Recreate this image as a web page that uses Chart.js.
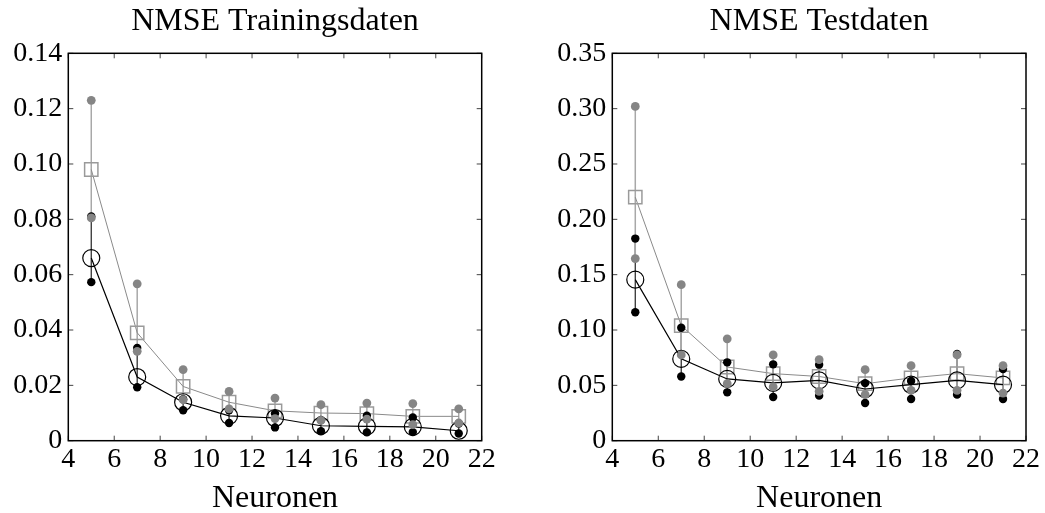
<!DOCTYPE html>
<html>
<head>
<meta charset="utf-8">
<script src="https://cdn.jsdelivr.net/npm/chart.js@4.4.1/dist/chart.umd.min.js"></script>
<style>
  html, body { margin: 0; padding: 0; background: #fff; overflow: hidden; }
  canvas { position: absolute; top: 0; }
  #train { left: 0; }
  #test { left: 522px; }
</style>
</head>
<body>
<canvas id="train" width="522" height="513"></canvas>
<canvas id="test" width="523" height="513"></canvas>
<script>
// Anzahl Neuronen (x-Achse)
const neurons = [5, 7, 9, 11, 13, 15, 17, 19, 21];
const xTicks = ["4", "6", "8", "10", "12", "14", "16", "18", "20", "22"];

// NMSE Trainingsdaten
const trainGrayMean = [0.098, 0.039, 0.0196, 0.0139, 0.0108, 0.0100, 0.0098, 0.0088, 0.0088];
const trainGrayHi   = [0.123, 0.0567, 0.0257, 0.0178, 0.0154, 0.0130, 0.0136, 0.0134, 0.0115];
const trainGrayLo   = [0.0805, 0.0323, 0.0148, 0.0115, 0.0080, 0.0073, 0.0078, 0.0058, 0.0064];
const trainBlackMean = [0.066, 0.023, 0.0139, 0.0090, 0.0082, 0.0054, 0.0052, 0.0050, 0.0036];
const trainBlackHi   = [0.081, 0.0335, 0.0150, 0.0110, 0.0098, 0.0075, 0.0090, 0.0084, 0.0062];
const trainBlackLo   = [0.0573, 0.0193, 0.0110, 0.0064, 0.0048, 0.0034, 0.0030, 0.0031, 0.0026];
const trainYTicks = ["0", "0.02", "0.04", "0.06", "0.08", "0.10", "0.12", "0.14"];

// NMSE Testdaten
const testGrayMean = [0.220, 0.104, 0.0666, 0.0606, 0.058, 0.0515, 0.0567, 0.0606, 0.0567];
const testGrayHi   = [0.302, 0.141, 0.092, 0.0775, 0.0732, 0.0642, 0.0678, 0.0775, 0.0678];
const testGrayLo   = [0.1645, 0.0775, 0.0515, 0.0486, 0.0446, 0.0416, 0.0455, 0.0455, 0.043];
const testBlackMean = [0.1455, 0.0739, 0.0558, 0.0522, 0.0545, 0.0467, 0.0506, 0.0545, 0.0506];
const testBlackHi   = [0.1826, 0.102, 0.0708, 0.069, 0.0687, 0.052, 0.054, 0.0784, 0.0648];
const testBlackLo   = [0.116, 0.058, 0.0437, 0.0395, 0.0407, 0.034, 0.0377, 0.0416, 0.0377];
const testYTicks = ["0", "0.05", "0.10", "0.15", "0.20", "0.25", "0.30", "0.35"];

Chart.defaults.font.family = "'Liberation Serif', 'DejaVu Serif', serif";
Chart.defaults.color = "#000";

const GRAY_DOT = "#858585";
const GRAY_LINE = "#8a8a8a";
const GRAY_BAR = "#a8a8a8";
const GRAY_SQUARE = "#9a9a9a";

const pts = arr => neurons.map((n, i) => ({ x: n, y: arr[i] }));

// Fehlerbalken, Rahmen, Ticks nach innen, Titel
const framePlugin = {
  id: "frame",
  beforeDatasetsDraw(chart, args, opts) {
    const ctx = chart.ctx;
    const xs = chart.scales.x, ys = chart.scales.y;
    ctx.save();
    opts.bars.forEach(b => {
      ctx.strokeStyle = b.color;
      ctx.lineWidth = b.width;
      neurons.forEach((n, i) => {
        const px = xs.getPixelForValue(n);
        ctx.beginPath();
        ctx.moveTo(px, ys.getPixelForValue(b.lo[i]));
        ctx.lineTo(px, ys.getPixelForValue(b.hi[i]));
        ctx.stroke();
      });
    });
    ctx.restore();
  },
  afterDraw(chart, args, opts) {
    const ctx = chart.ctx;
    const a = chart.chartArea;
    const xs = chart.scales.x, ys = chart.scales.y;
    ctx.save();
    // Ticks
    ctx.strokeStyle = "#444";
    ctx.lineWidth = 1;
    const tl = 5;
    xs.ticks.forEach(t => {
      const px = xs.getPixelForValue(t.value);
      ctx.beginPath();
      ctx.moveTo(px, a.bottom); ctx.lineTo(px, a.bottom - tl);
      ctx.moveTo(px, a.top); ctx.lineTo(px, a.top + tl);
      ctx.stroke();
    });
    ys.ticks.forEach(t => {
      const py = ys.getPixelForValue(t.value);
      ctx.beginPath();
      ctx.moveTo(a.left, py); ctx.lineTo(a.left + tl, py);
      ctx.moveTo(a.right, py); ctx.lineTo(a.right - tl, py);
      ctx.stroke();
    });
    // Rahmen
    ctx.strokeStyle = "#000";
    ctx.lineWidth = 1.5;
    ctx.strokeRect(a.left, a.top, a.right - a.left, a.bottom - a.top);
    // Titel und Achsenbeschriftung
    ctx.fillStyle = "#000";
    ctx.font = "32px 'Liberation Serif', 'DejaVu Serif', serif";
    ctx.textAlign = "center";
    ctx.textBaseline = "alphabetic";
    const cx = (a.left + a.right) / 2;
    ctx.fillText(opts.title, cx, 30);
    ctx.fillText(opts.xLabel, cx, 507);
    ctx.restore();
  }
};

function makeChart(id, cfg) {
  new Chart(document.getElementById(id), {
    type: "line",
    data: {
      datasets: [
        {
          data: pts(cfg.grayMean), order: 5,
          borderColor: GRAY_LINE, borderWidth: 1,
          pointStyle: "rect", pointRadius: 9.4,
          pointBorderColor: GRAY_SQUARE, pointBorderWidth: 1.5,
          pointBackgroundColor: "rgba(0,0,0,0)", tension: 0
        },
        {
          data: pts(cfg.blackMean), order: 4,
          borderColor: "#000", borderWidth: 1.2,
          pointStyle: "circle", pointRadius: 8.5,
          pointBorderColor: "#000", pointBorderWidth: 1.2,
          pointBackgroundColor: "rgba(0,0,0,0)", tension: 0
        },
        { data: pts(cfg.blackHi), order: 3, showLine: false, pointRadius: 4.2, pointBorderWidth: 0, pointBackgroundColor: "#000" },
        { data: pts(cfg.blackLo), order: 3, showLine: false, pointRadius: 4.2, pointBorderWidth: 0, pointBackgroundColor: "#000" },
        { data: pts(cfg.grayHi), order: 1, showLine: false, pointRadius: 4.4, pointBorderWidth: 0, pointBackgroundColor: GRAY_DOT },
        { data: pts(cfg.grayLo), order: 1, showLine: false, pointRadius: 4.4, pointBorderWidth: 0, pointBackgroundColor: GRAY_DOT }
      ]
    },
    options: {
      responsive: false,
      animation: false,
      layout: { padding: { left: 0, right: cfg.padRight, top: 53.3, bottom: 0 } },
      scales: {
        x: {
          type: "linear", min: 4, max: 22,
          grid: { display: false, drawTicks: false },
          border: { display: false },
          ticks: {
            stepSize: 2, padding: 2, maxRotation: 0, autoSkip: false,
            font: { size: 28 },
            callback: (v, i) => xTicks[i]
          },
          afterFit: s => { s.height = 72.3; }
        },
        y: {
          min: 0, max: cfg.yMax,
          grid: { display: false, drawTicks: false },
          border: { display: false },
          ticks: {
            stepSize: cfg.yStep, padding: 6,
            font: { size: 28 },
            callback: (v, i) => cfg.yTicks[i]
          },
          afterFit: s => { s.width = cfg.yWidth; }
        }
      },
      plugins: {
        legend: { display: false },
        tooltip: { enabled: false },
        frame: {
          title: cfg.title,
          xLabel: "Neuronen",
          bars: [
            { lo: cfg.blackLo, hi: cfg.blackHi, color: "#333", width: 1.3 },
            { lo: cfg.grayLo, hi: cfg.grayHi, color: GRAY_BAR, width: 1.5 }
          ]
        }
      }
    },
    plugins: [framePlugin]
  });
}

makeChart("train", {
  title: "NMSE Trainingsdaten",
  yMax: 0.14, yStep: 0.02, yTicks: trainYTicks,
  yWidth: 68.3, padRight: 522 - 481.7,
  grayMean: trainGrayMean, grayHi: trainGrayHi, grayLo: trainGrayLo,
  blackMean: trainBlackMean, blackHi: trainBlackHi, blackLo: trainBlackLo
});

makeChart("test", {
  title: "NMSE Testdaten",
  yMax: 0.35, yStep: 0.05, yTicks: testYTicks,
  yWidth: 612.3 - 522, padRight: 523 - (1026 - 522),
  grayMean: testGrayMean, grayHi: testGrayHi, grayLo: testGrayLo,
  blackMean: testBlackMean, blackHi: testBlackHi, blackLo: testBlackLo
});
</script>
</body>
</html>
